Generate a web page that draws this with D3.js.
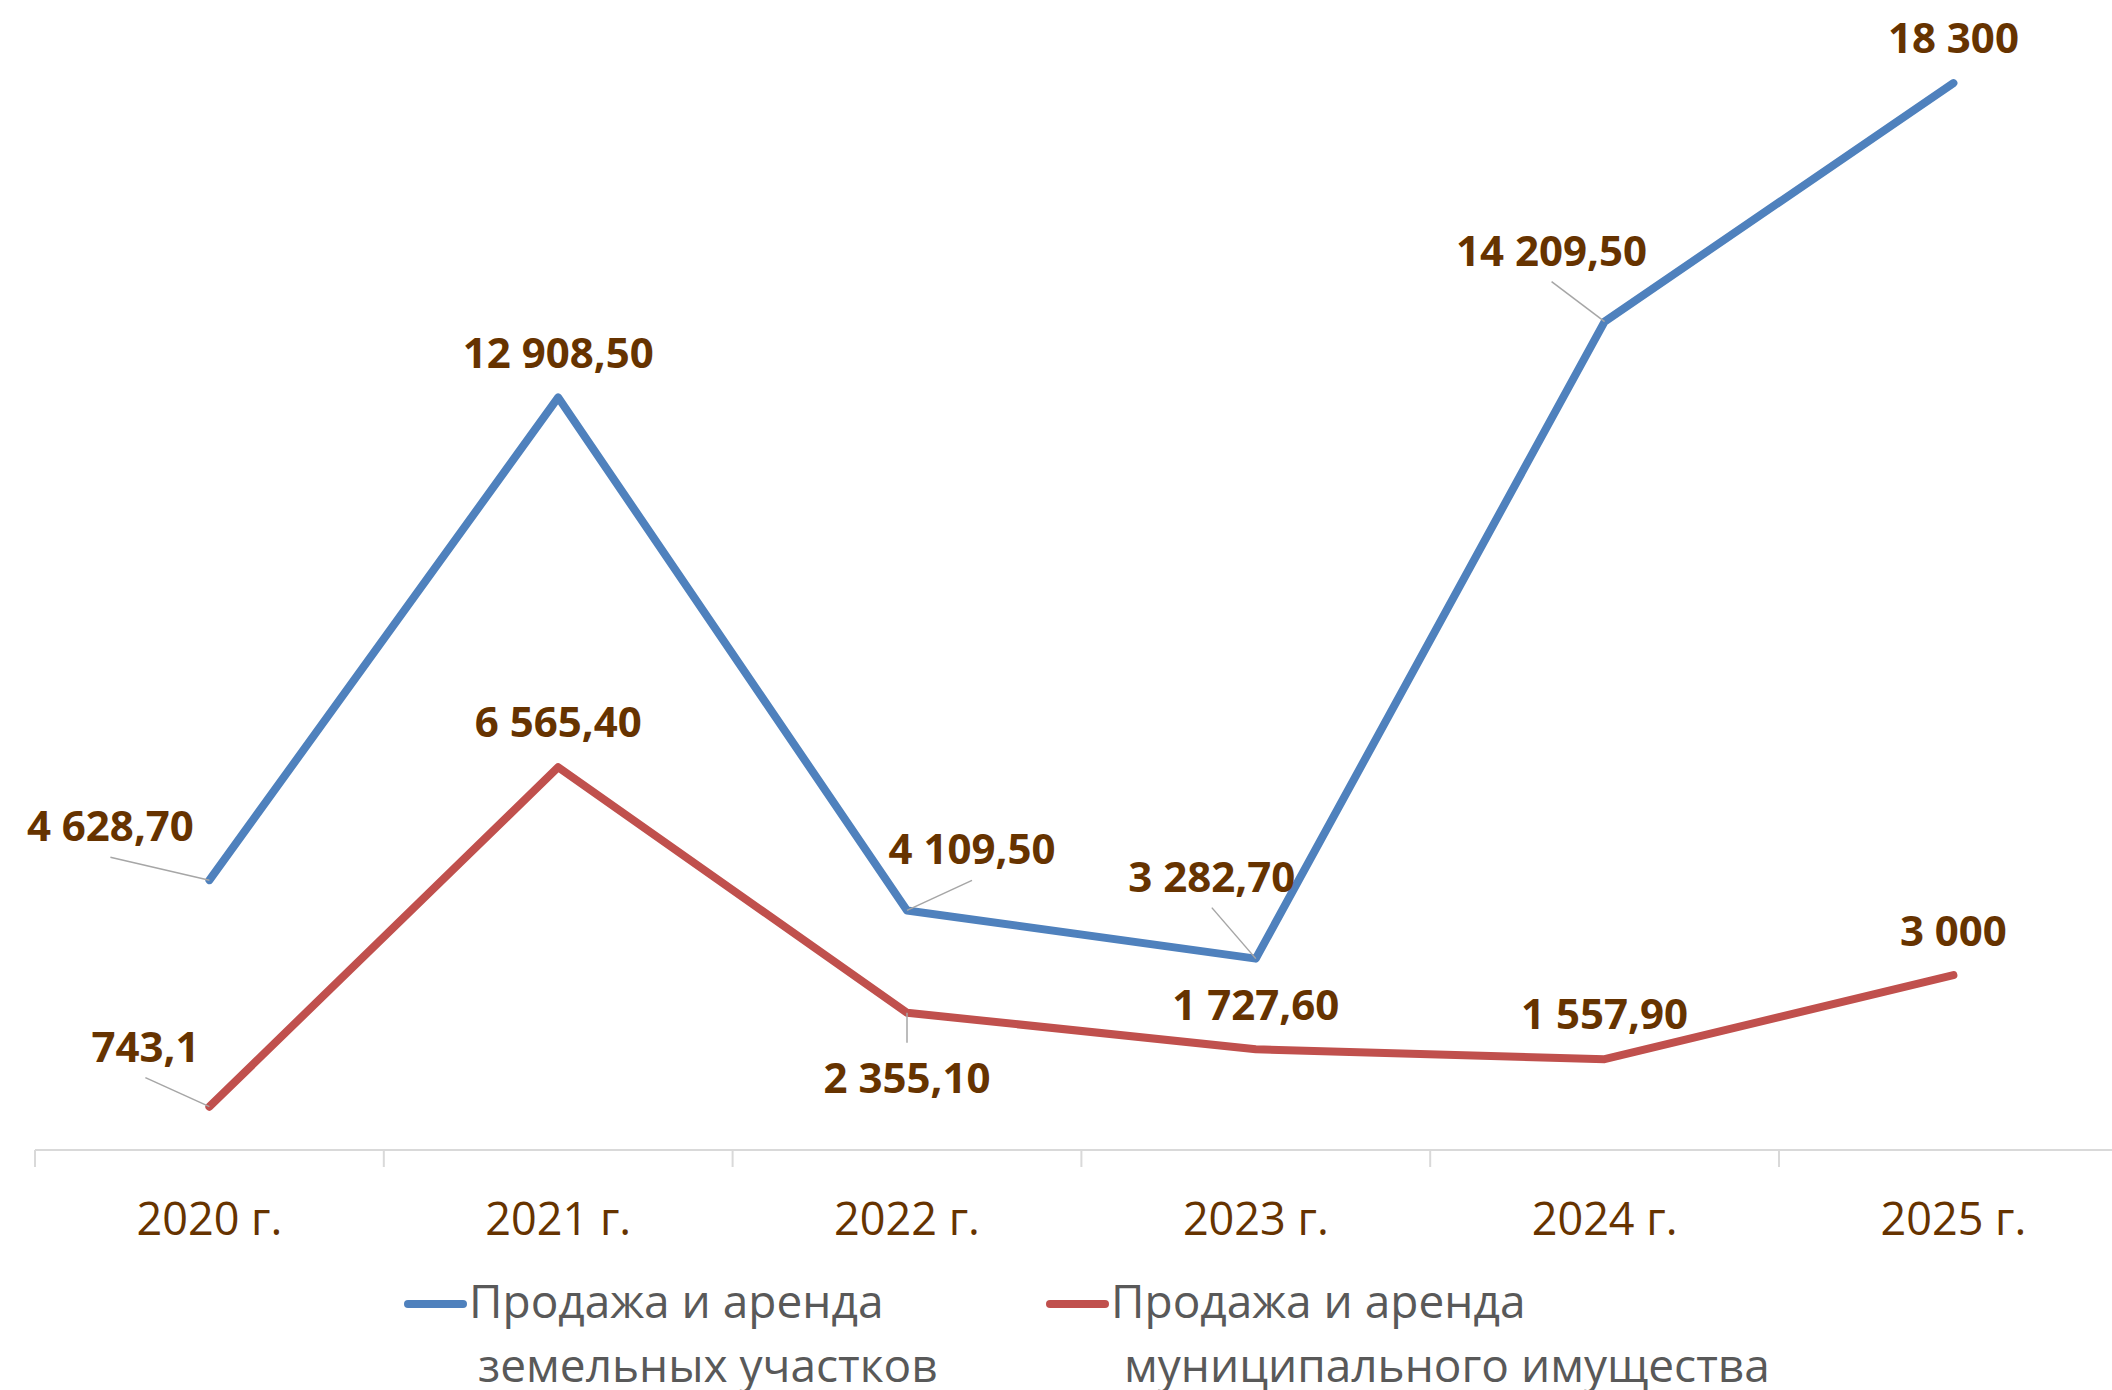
<!DOCTYPE html>
<html>
<head>
<meta charset="utf-8">
<script src="https://cdn.jsdelivr.net/npm/d3@7"></script>
<style>
    body { margin: 0; background: #fff; }
    svg { display: block; }
    .value-label { font-family: "Open Sans", sans-serif; font-weight: 700; font-size: 42px; fill: #663300; }
    .tick-label { font-family: "Open Sans", sans-serif; font-size: 45px; fill: #663300; }
    .legend-label { font-family: "Open Sans", sans-serif; font-size: 46px; fill: #595959; }
</style>
</head>
<body>
<div class="panel"></div>
<script>

const years = ["2020 г.", "2021 г.", "2022 г.", "2023 г.", "2024 г.", "2025 г."];

const landValues = [4628.7, 12908.5, 4109.5, 3282.7, 14209.5, 18300];
const landLabels = ["4 628,70", "12 908,50", "4 109,50", "3 282,70", "14 209,50", "18 300"];

const propertyValues = [743.1, 6565.4, 2355.1, 1727.6, 1557.9, 3000];
const propertyLabels = ["743,1", "6 565,40", "2 355,10", "1 727,60", "1 557,90", "3 000"];

const seriesNames = [
    ["Продажа и аренда", "земельных участков"],
    ["Продажа и аренда", "муниципального имущества"]
];

// label placement relative to the point: [dx, dy, leader line]
const landLabelPos = [[-99, -39, true], [0, -29, false], [65, -46, true], [-44, -67, true], [-53, -56, true], [0, -30, false]];
const propertyLabelPos = [[-64, -45, true], [0, -30, false], [0, 80, true], [0, -29, false], [0, -30, false], [0, -29, false]];

const dim = { width: 2112, height: 1390 };
const colors = { blue: "#4F81BD", red: "#C0504D", axis: "#D9D9D9", leader: "#A6A6A6" };

const series = [
    { values: landValues, labels: landLabels, pos: landLabelPos, color: colors.blue, name: seriesNames[0] },
    { values: propertyValues, labels: propertyLabels, pos: propertyLabelPos, color: colors.red, name: seriesNames[1] }
];

const svg = d3.select(".panel").append("svg")
    .attr("width", dim.width)
    .attr("height", dim.height);

// Scales ////////////////////////////////////

const x = d3.scaleBand()
    .domain(years)
    .range([35, 35 + 6 * 348.8]);

const y = d3.scaleLinear()
    .domain([0, 20000])
    .range([1150, -16]);

const cx = i => x(years[i]) + x.bandwidth() / 2;

// Axis ////////////////////////////////////

const axis = svg.append("g").attr("class", "axis");

axis.append("line")
    .attr("x1", 35).attr("x2", dim.width)
    .attr("y1", y(0)).attr("y2", y(0))
    .attr("stroke", colors.axis)
    .attr("stroke-width", 2);

axis.selectAll(".tick-mark")
    .data(years)
    .join("line")
    .attr("class", "tick-mark")
    .attr("x1", d => x(d)).attr("x2", d => x(d))
    .attr("y1", y(0)).attr("y2", y(0) + 17)
    .attr("stroke", colors.axis)
    .attr("stroke-width", 2);

axis.selectAll(".tick-label")
    .data(years)
    .join("text")
    .attr("class", "tick-label")
    .attr("x", d => x(d) + x.bandwidth() / 2)
    .attr("y", 1235)
    .attr("text-anchor", "middle")
    .text(d => d);

// Lines ////////////////////////////////////

const line = d3.line()
    .x((d, i) => cx(i))
    .y(d => y(d));

svg.selectAll(".series-line")
    .data(series)
    .join("path")
    .attr("class", "series-line")
    .attr("d", d => line(d.values))
    .attr("fill", "none")
    .attr("stroke", d => d.color)
    .attr("stroke-width", 8)
    .attr("stroke-linejoin", "round")
    .attr("stroke-linecap", "round");

// Labels ////////////////////////////////////

series.forEach(s => {

    const g = svg.append("g").attr("class", "labels");

    s.values.forEach((v, i) => {
        const px = cx(i), py = y(v);
        const [dx, dy, leader] = s.pos[i];
        const lx = px + dx, ly = py + dy;

        if (leader) {
            const sy = dy < 0 ? ly + 16 : ly - 50;
            g.append("line")
                .attr("x1", lx).attr("y1", sy)
                .attr("x2", px).attr("y2", py)
                .attr("stroke", colors.leader)
                .attr("stroke-width", 1.5);
        }

        g.append("text")
            .attr("class", "value-label")
            .attr("x", lx)
            .attr("y", ly)
            .attr("text-anchor", "middle")
            .text(s.labels[i]);
    });
});

// Legend ////////////////////////////////////

const legendX = [408, 1050];

const legend = svg.selectAll(".legend-item")
    .data(series)
    .join("g")
    .attr("class", "legend-item")
    .attr("transform", (d, i) => `translate(${ legendX[i] }, 1304)`);

legend.append("line")
    .attr("x1", 0).attr("x2", 55)
    .attr("stroke", d => d.color)
    .attr("stroke-width", 8)
    .attr("stroke-linecap", "round");

legend.append("text")
    .attr("class", "legend-label")
    .attr("x", 61)
    .attr("y", 14)
    .text(d => d.name[0]);

legend.append("text")
    .attr("class", "legend-label")
    .attr("x", (d, i) => i === 0 ? 70 : 74)
    .attr("y", 78)
    .text(d => d.name[1]);

</script>
</body>
</html>
